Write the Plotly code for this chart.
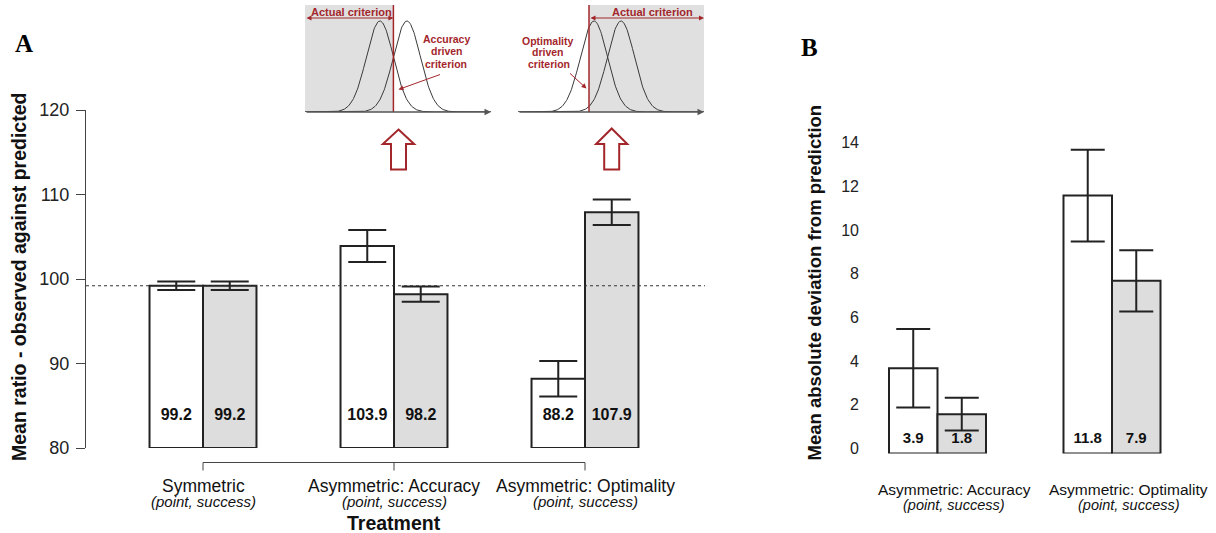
import math
import plotly.graph_objects as go

# ---------------- data ----------------
# Panel A : mean ratio observed / predicted
a_categories = ["Symmetric", "Asymmetric: Accuracy", "Asymmetric: Optimality"]
a_subtitle = "(point, success)"
a_point = [99.2, 103.9, 88.2]          # white bars
a_point_err = [0.5, 1.9, 2.1]
a_success = [99.2, 98.2, 107.9]        # grey bars
a_success_err = [0.5, 0.9, 1.5]
a_prediction = 99.2                    # dotted reference line
a_yticks = [80, 90, 100, 110, 120]
a_floor = 80

# Panel B : mean absolute deviation from prediction
b_categories = ["Asymmetric: Accuracy", "Asymmetric: Optimality"]
b_point = [3.9, 11.8]
b_point_err = [1.8, 2.1]
b_success = [1.8, 7.9]
b_success_err = [0.75, 1.4]
b_yticks = [0, 2, 4, 6, 8, 10, 12, 14]

# Schematic insets (signal-detection sketch, in sd units)
curve_means = [-1.0, 1.0]
curve_sd = 1.0
inset_criterion = [0.0, -1.37]         # accuracy-driven, optimality-driven

# ---------------- helpers / styles ----------------
W, H = 1216, 533
def px(x):
    return x / W
def py(y):
    return 1 - y / H

FONT = "Arial, 'Liberation Sans', sans-serif"
SERIF = "'Liberation Serif', 'Times New Roman', serif"
RED = "#a3262b"
EDGE = "#222222"
GREY = "#dddddd"
AXC = "#444444"

fig = go.Figure()

# ---------------- Panel A ----------------
BW_A = 0.28
xa = list(range(len(a_categories)))
fig.add_bar(x=xa, y=[v - a_floor for v in a_point], base=a_floor, width=BW_A, offset=-BW_A,
            marker=dict(color="white", line=dict(color=EDGE, width=2)),
            error_y=dict(type="data", array=a_point_err, color=EDGE, thickness=2, width=19),
            xaxis="x", yaxis="y", cliponaxis=False, showlegend=False, hoverinfo="skip")
fig.add_bar(x=xa, y=[v - a_floor for v in a_success], base=a_floor, width=BW_A, offset=0,
            marker=dict(color=GREY, line=dict(color=EDGE, width=2)),
            error_y=dict(type="data", array=a_success_err, color=EDGE, thickness=2, width=19),
            xaxis="x", yaxis="y", cliponaxis=False, showlegend=False, hoverinfo="skip")
A_LABEL_Y = 83.8
fig.add_scatter(x=[i - BW_A / 2 for i in xa] + [i + BW_A / 2 for i in xa],
                y=[A_LABEL_Y] * (2 * len(xa)),
                text=[f"<b>{v:.1f}</b>" for v in a_point + a_success],
                mode="text", textfont=dict(size=16, color="#111", family=FONT),
                xaxis="x", yaxis="y", showlegend=False, hoverinfo="skip", cliponaxis=False)

# ---------------- Panel B ----------------
BW_B = 0.278
xb = list(range(len(b_categories)))
fig.add_bar(x=xb, y=b_point, width=BW_B, offset=-BW_B,
            marker=dict(color="white", line=dict(color=EDGE, width=2)),
            error_y=dict(type="data", array=b_point_err, color=EDGE, thickness=2, width=17),
            xaxis="x2", yaxis="y2", cliponaxis=False, showlegend=False, hoverinfo="skip")
fig.add_bar(x=xb, y=b_success, width=BW_B, offset=0,
            marker=dict(color=GREY, line=dict(color=EDGE, width=2)),
            error_y=dict(type="data", array=b_success_err, color=EDGE, thickness=2, width=17),
            xaxis="x2", yaxis="y2", cliponaxis=False, showlegend=False, hoverinfo="skip")
B_LABEL_Y = 0.65
fig.add_scatter(x=[i - BW_B / 2 for i in xb] + [i + BW_B / 2 for i in xb],
                y=[B_LABEL_Y] * (2 * len(xb)),
                text=[f"<b>{v:.1f}</b>" for v in b_point + b_success],
                mode="text", textfont=dict(size=15, color="#111", family=FONT),
                xaxis="x2", yaxis="y2", showlegend=False, hoverinfo="skip", cliponaxis=False)

# ---------------- Insets ----------------
PX_PER_SD = 13.5
insets = [
    dict(ax="x3", ay="y3", left=305, right=491, centre=393.4),
    dict(ax="x4", ay="y4", left=518, right=704, centre=607.5),
]
INSET_TOP, INSET_BASE = 5, 112
PEAK_PX = 91
for k, ins in enumerate(insets):
    lo = (ins["left"] - ins["centre"]) / PX_PER_SD
    hi = (ins["right"] - ins["centre"]) / PX_PER_SD
    ins["range"] = [lo, hi]
    n = 300
    xs = [lo + (hi - lo) * j / (n - 1) for j in range(n)]
    for mu in curve_means:
        ys = [math.exp(-0.5 * ((x - mu) / curve_sd) ** 2) for x in xs]
        fig.add_scatter(x=xs, y=ys, mode="lines", line=dict(color="#3a3a3a", width=1),
                        xaxis=ins["ax"], yaxis=ins["ay"], showlegend=False, hoverinfo="skip")

layout_axes = {}
for k, ins in enumerate(insets):
    idx = ins["ax"][1:]
    layout_axes[f"xaxis{idx}"] = dict(domain=[px(ins["left"]), px(ins["right"])], range=ins["range"],
                                      visible=False, anchor=f"y{idx}", fixedrange=True, automargin=False)
    layout_axes[f"yaxis{idx}"] = dict(domain=[py(INSET_BASE), py(INSET_TOP)],
                                      range=[0, (INSET_BASE - INSET_TOP) / PEAK_PX],
                                      visible=False, anchor=f"x{idx}", fixedrange=True, automargin=False)

shapes = []
annotations = []

def label(x, y, text, size, color="#111", family=FONT, xref="paper", yref="paper", **kw):
    annotations.append(dict(x=x, y=y, xref=xref, yref=yref, text=text, showarrow=False,
                            xanchor="center", yanchor="middle",
                            font=dict(size=size, color=color, family=family), **kw))

for k, ins in enumerate(insets):
    xr, yr = ins["ax"], ins["ay"]
    crit = inset_criterion[k]
    lo, hi = ins["range"]
    # shaded "actual criterion" region
    if k == 0:
        g0, g1 = lo, crit
    else:
        g0, g1 = crit, hi
    shapes.append(dict(type="rect", xref=xr, yref=yr + " domain", x0=g0, x1=g1, y0=0, y1=1,
                       fillcolor="#e0e0e0", line=dict(width=0), layer="below"))
    shapes.append(dict(type="line", xref=xr, yref=yr + " domain", x0=crit, x1=crit, y0=0, y1=1,
                       line=dict(color=RED, width=1.5)))
    # x axis with arrow
    annotations.append(dict(x=hi, y=0, ax=lo, ay=0, xref=xr, yref=yr, axref=xr, ayref=yr,
                            text="", showarrow=True, arrowhead=2, arrowsize=1, arrowwidth=1.3,
                            arrowcolor="#555"))
    # double arrow "Actual criterion"
    ya = (INSET_BASE - 18) / PEAK_PX
    annotations.append(dict(x=g1, y=ya, ax=g0, ay=ya, xref=xr, yref=yr, axref=xr, ayref=yr,
                            text="", showarrow=True, arrowhead=2, startarrowhead=2,
                            arrowside="end+start", arrowsize=1, arrowwidth=1, arrowcolor=RED))

label(px(351), py(11.7), "<b>Actual criterion</b>", 11, RED)
label(px(652), py(12.5), "<b>Actual criterion</b>", 11, RED)
for txt, (cx, cy) in zip(["Accuracy", "driven", "criterion"], [(446, 39.5), (446.5, 51.5), (446, 63.5)]):
    label(px(cx), py(cy), f"<b>{txt}</b>", 10.5, RED)
for txt, (cx, cy) in zip(["Optimality", "driven", "criterion"], [(547.5, 40.5), (548, 52), (549, 63.5)]):
    label(px(cx), py(cy), f"<b>{txt}</b>", 10.5, RED)
# small pointer arrows
annotations.append(dict(x=px(398.5), y=py(89.5), xref="paper", yref="paper", text="", showarrow=True,
                        ax=43, ay=-15.5, arrowhead=2, arrowsize=1, arrowwidth=1, arrowcolor=RED))
annotations.append(dict(x=px(586.5), y=py(88.5), xref="paper", yref="paper", text="", showarrow=True,
                        ax=-18, ay=-16.5, arrowhead=2, arrowsize=1, arrowwidth=1, arrowcolor=RED))

# hollow up arrows
def up_arrow(cx, top, head_base, bottom, head_hw, shaft_hw):
    pts = [(cx, top), (cx + head_hw, head_base), (cx + shaft_hw, head_base), (cx + shaft_hw, bottom),
           (cx - shaft_hw, bottom), (cx - shaft_hw, head_base), (cx - head_hw, head_base)]
    return "M " + " L ".join(f"{px(x):.5f},{py(y):.5f}" for x, y in pts) + " Z"

for cx, top in [(398.5, 129.5), (611.7, 128.5)]:
    shapes.append(dict(type="path", xref="paper", yref="paper",
                       path=up_arrow(cx, top, 144, 169.5, 15.6, 7.5),
                       line=dict(color=RED, width=2), fillcolor="white"))

# ---------------- Panel A decorations ----------------
shapes.append(dict(type="line", xref="x domain", yref="y", x0=0, x1=1, y0=a_prediction, y1=a_prediction,
                   line=dict(color="#333", width=1, dash="dot"), layer="above"))
BRACKET_Y, BRACKET_TICK = 462.5, 470.5
shapes.append(dict(type="line", xref="x", yref="paper", x0=xa[0], x1=xa[-1], y0=py(BRACKET_Y), y1=py(BRACKET_Y),
                   line=dict(color=AXC, width=1)))
for i in xa:
    shapes.append(dict(type="line", xref="x", yref="paper", x0=i, x1=i, y0=py(BRACKET_Y), y1=py(BRACKET_TICK),
                       line=dict(color=AXC, width=1)))
for i, cat in zip(xa, a_categories):
    label(i, py(486), cat, 17.5, xref="x")
    label(i, py(501), f"<i>{a_subtitle}</i>", 15, xref="x")
label((xa[0] + xa[-1]) / 2, py(523), "<b>Treatment</b>", 19.5, xref="x")
label(px(19), py(277), "<b>Mean ratio - observed against predicted</b>", 19.5, textangle=-90)
label(px(24), py(43.5), "<b>A</b>", 25, "#000", SERIF)

# ---------------- Panel B decorations ----------------
B_LABEL_SHIFT = 0.095
for i, cat in zip(xb, b_categories):
    label(i + B_LABEL_SHIFT, py(489.5), cat, 15.5, xref="x2")
    label(i + B_LABEL_SHIFT, py(505), f"<i>{a_subtitle}</i>", 14.5, xref="x2")
label(px(813.5), py(283), "<b>Mean absolute deviation from prediction</b>", 18.5, textangle=-90)
label(px(810), py(47), "<b>B</b>", 25, "#000", SERIF)

# ---------------- layout ----------------
A_LEFT, A_RIGHT, A_C0, A_STEP = 86, 705, 203, 191
B_LEFT, B_RIGHT, B_C0, B_STEP = 865, 1200, 937.5, 174.5
B_BASE, B_TOP, B_PXU = 453.5, 120, 21.86

fig.update_layout(
    template="none",
    width=W, height=H, autosize=False,
    margin=dict(l=0, r=0, t=0, b=0, pad=0, autoexpand=False),
    paper_bgcolor="white", plot_bgcolor="rgba(0,0,0,0)",
    barmode="overlay", showlegend=False,
    font=dict(family=FONT, color="#111"),
    xaxis=dict(domain=[px(A_LEFT), px(A_RIGHT)],
               range=[(A_LEFT - A_C0) / A_STEP, (A_RIGHT - A_C0) / A_STEP],
               visible=False, anchor="y", fixedrange=True, automargin=False),
    yaxis=dict(domain=[py(448), py(110)], range=[a_floor, 120], tickvals=a_yticks,
               ticks="outside", ticklen=9, tickwidth=1, tickcolor=AXC,
               showline=True, linecolor=AXC, linewidth=1, showgrid=False, zeroline=False,
               tickfont=dict(size=18, color="#222", family=FONT), ticklabelstandoff=3,
               anchor="x", fixedrange=True, automargin=False),
    xaxis2=dict(domain=[px(B_LEFT), px(B_RIGHT)],
                range=[(B_LEFT - B_C0) / B_STEP, (B_RIGHT - B_C0) / B_STEP],
                visible=False, anchor="y2", fixedrange=True, automargin=False),
    yaxis2=dict(domain=[py(B_BASE), py(B_TOP)], range=[0, (B_BASE - B_TOP) / B_PXU], tickvals=b_yticks,
                ticks="", showline=False, showgrid=False, zeroline=False,
                tickfont=dict(size=16, color="#222", family=FONT), ticklabelshift=-5, ticklabelstandoff=5,
                anchor="x2", fixedrange=True, automargin=False),
    shapes=shapes,
    annotations=annotations,
    **layout_axes,
)

fig.write_html("out.html", config={"displayModeBar": False},
               post_script="document.body.style.margin='0';document.body.style.overflow='hidden';")
